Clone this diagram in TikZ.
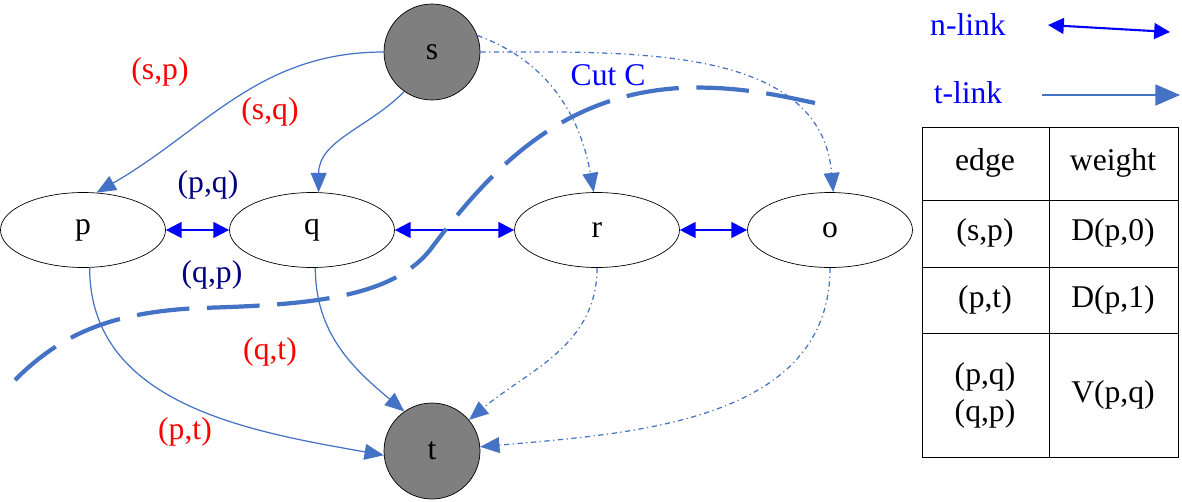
\documentclass[tikz,border=0pt]{standalone}
\usepackage{fontspec}
\setmainfont{Liberation Serif}
\usetikzlibrary{shapes.geometric,arrows.meta}
\definecolor{tl}{HTML}{4472C4}
\definecolor{nl}{HTML}{0000FF}
\definecolor{nv}{HTML}{000080}
\definecolor{tg}{HTML}{7F7F7F}
\begin{document}
\begin{tikzpicture}[x=0.02cm,y=-0.02cm,font=\fontsize{18}{21}\selectfont,
  term/.style={circle,draw,fill=tg,minimum size=1.92cm,inner sep=0pt},
  pix/.style={ellipse,draw,minimum width=3.3cm,minimum height=1.5cm,inner sep=0pt},
  tlink/.style={draw=tl,line width=0.7pt,-{Triangle[length=11pt,width=9pt]}},
  tdash/.style={tlink,dash dot},
  nlink/.style={draw=nl,line width=1.2pt,{Triangle[length=9pt,width=9pt]}-{Triangle[length=9pt,width=9pt]}},
  red lab/.style={text=red},
  nv lab/.style={text=nv}]
\useasboundingbox (0,0) rectangle (1182,501);
\node[term] (s) at (432,52) {s};
\node[term] (t) at (432,451) {t};
\node[pix] (p) at (83,230) {p};
\node[pix] (q) at (312,230) {q};
\node[pix] (r) at (597,230) {r};
\node[pix] (o) at (830,230) {o};
% t-links
\draw[tlink] (s.180) to[out=180,in=30] (p.70);
\draw[tlink] (s.235) to[out=225,in=90] (q.80);
\draw[tdash] (s.20) to[out=-20,in=100] (r.95);
\draw[tdash] (s.0) to[out=0,in=95] (o.85);
\draw[tlink] (p.-80) to[out=-90,in=170] (t.185);
\draw[tlink] (q.-85) to[out=-90,in=140] (t.125);
\draw[tdash] (r.-90) to[out=-90,in=40] (t.40);
\draw[tdash] (o.-90) to[out=-90,in=5] (t.5);
% n-links
\draw[nlink] (p.east) -- (q.west);
\draw[nlink] (q.east) -- (r.west);
\draw[nlink] (r.east) -- (o.west);
% cut
\draw[tl,line width=2.4pt,dash pattern=on 30pt off 10pt]
  (15,380) .. controls (60,335) and (110,312) .. (200,308)
  .. controls (300,305) and (390,300) .. (430,250)
  .. controls (490,170) and (560,95) .. (680,88)
  .. controls (740,85) and (790,98) .. (815,103);
% labels
\node[red lab] (lsp) at (160,72) {(s,p)};
\node[red lab] (lsq) at (270,112) {(s,q)};
\node[nv lab] (lpq) at (208,185) {(p,q)};
\node[nv lab] (lqp) at (212,275) {(q,p)};
\node[red lab] (lqt) at (270,352) {(q,t)};
\node[red lab] (lpt) at (185,432) {(p,t)};
\node[text=nl] (cut) at (608,75) {Cut C};
% legend
\node[text=nl] (ln) at (968,25) {n-link};
\node[text=nl] (lt) at (968,93) {t-link};
\coordinate (n1) at (1048,25); \coordinate (n2) at (1170,32);
\coordinate (t1) at (1042,95); \coordinate (t2) at (1180,95);
\draw[nlink] (n1) -- (n2);
\draw[tl,line width=0.8pt,-{Triangle[length=14pt,width=12pt]}] (t1) -- (t2);
% table
\draw (922,127) rectangle (1178,457);
\draw (1049,127) -- (1049,457);
\foreach \y in {200,267,333} \draw (922,\y) -- (1178,\y);
\node (h1) at (985,163) {edge};
\node (h2) at (1113,163) {weight};
\node (a1) at (985,233) {(s,p)};
\node (a2) at (1113,233) {D(p,0)};
\node (b1) at (985,300) {(p,t)};
\node (b2) at (1113,300) {D(p,1)};
\node[align=center] (c1) at (985,395) {(p,q)\\(q,p)};
\node (c2) at (1113,395) {V(p,q)};
\end{tikzpicture}
\end{document}
